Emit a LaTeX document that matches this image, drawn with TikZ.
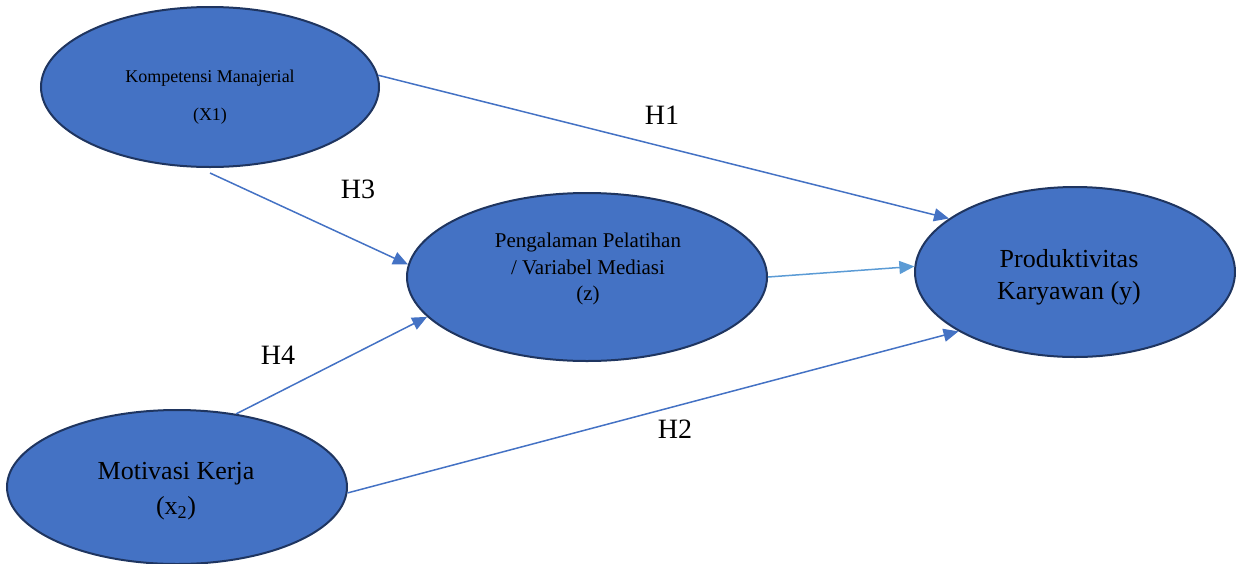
\documentclass[tikz,border=0pt]{standalone}
\usepackage{fontspec}
\setmainfont{Liberation Serif}
\usetikzlibrary{arrows.meta,shapes.geometric,calc}
\definecolor{fillblue}{HTML}{4472C4}
\definecolor{edgenavy}{HTML}{1F3560}
\definecolor{arrowblue}{HTML}{4472C4}
\definecolor{lightarrow}{HTML}{5B9BD5}
\tikzset{
  var/.style={ellipse, draw=edgenavy, line width=2pt, fill=fillblue, inner sep=0pt},
  vtext/.style={align=center, text=black, inner sep=0pt},
  link/.style={draw=arrowblue, line width=1.5pt, -{Triangle[length=15pt,width=13pt]}},
  lightlink/.style={draw=lightarrow, line width=1.5pt, -{Triangle[length=15pt,width=13pt]}},
  hyp/.style={font=\fontsize{28}{30}\selectfont, inner sep=0pt}
}
\begin{document}
\begin{tikzpicture}[x=1pt,y=-1pt]
\useasboundingbox (0,0) rectangle (1236,563);
% variables
\node[var, minimum width=338pt, minimum height=160pt] (x1) at (210,87) {};
\node[var, minimum width=360pt, minimum height=168pt] (z) at (587,277) {};
\node[var, minimum width=320pt, minimum height=170pt] (y) at (1075,272) {};
\node[var, minimum width=340pt, minimum height=154pt] (x2) at (177,487) {};
% texts
\node[vtext, font=\fontsize{18}{38}\selectfont] (tx1) at (210,97) {Kompetensi Manajerial\\(X1)};
\node[vtext, font=\fontsize{21}{26.5}\selectfont] (tz) at (588,269) {Pengalaman Pelatihan\\/ Variabel Mediasi\\(z)};
\node[vtext, font=\fontsize{26}{32}\selectfont] (ty) at (1069,277) {Produktivitas\\Karyawan (y)};
\node[vtext, font=\fontsize{26}{35}\selectfont] (tx2) at (176,491) {Motivasi Kerja\\(x\textsubscript{2})};
% connectors
\draw[link] (x1.4) -- (y.157);
\draw[link] ([yshift=-5pt]x1.south) -- (z.176);
\draw[link] (x2.51) -- (z.194);
\draw[link] (x2.-2) -- (y.207);
\draw[lightlink] (z.east) -- (y.178);
% hypothesis labels
\node[hyp] (h1) at (662,115) {H1};
\node[hyp] (h3) at (358,189) {H3};
\node[hyp] (h4) at (278,355) {H4};
\node[hyp] (h2) at (675,429) {H2};
\end{tikzpicture}
\end{document}
